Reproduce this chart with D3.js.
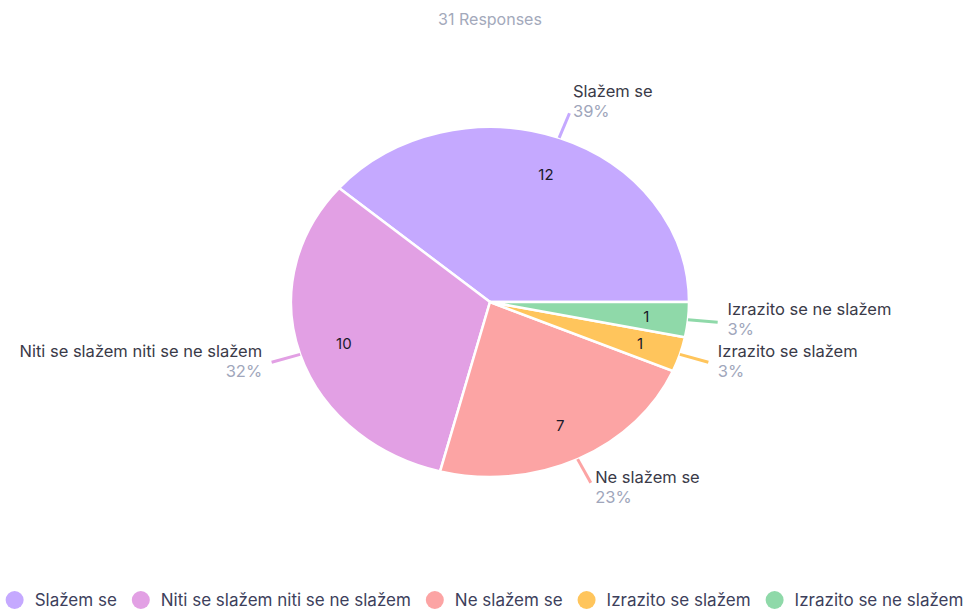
<!DOCTYPE html>
<html>
<head>
<meta charset="utf-8">
<script src="https://cdn.jsdelivr.net/npm/d3@7"></script>
<style>
  body { margin:0; background:#fff; font-family: Inter, "Noto Sans", sans-serif; }
  #pie { width:969px; height:612px; }
</style>
</head>
<body>
<div id="pie"></div>
<script>
!(function(){
    "use strict"

    var categories = ["Slažem se", "Niti se slažem niti se ne slažem", "Ne slažem se", "Izrazito se slažem", "Izrazito se ne slažem"]
    var counts = [12, 10, 7, 1, 1]
    var percents = ["39%", "32%", "23%", "3%", "3%"]
    var colors = ["#c5a9ff", "#e2a0e4", "#fca4a4", "#ffc55c", "#8fd9a9"]
    var title = "31 Responses"

    var width = 969, height = 612
    var cx = 490, cy = 302, rx = 199, ry = 175

    var svg = d3.select("#pie").append("svg").attr("width", width).attr("height", height)

    svg.append("text")
        .attr("x", cx).attr("y", 25)
        .attr("text-anchor", "middle")
        .attr("font-size", 16)
        .attr("fill", "#a3a9bb")
        .text(title)

    var data = categories.map(function(c, i){ return {name:c, value:counts[i], pct:percents[i], color:colors[i]} })

    var arcs = d3.pie()
        .sort(null)
        .startAngle(Math.PI/2)
        .endAngle(Math.PI/2 - 2*Math.PI)
        .value(function(d){ return d.value })(data)

    var arc = d3.arc().innerRadius(0).outerRadius(rx)

    // ellipse: squash the circle vertically
    var pieG = svg.append("g")
        .attr("transform", "translate(" + [cx, cy] + ") scale(1," + (ry/rx) + ")")

    pieG.selectAll("path")
        .data(arcs)
        .enter().append("path")
        .attr("d", arc)
        .attr("fill", function(d){ return d.data.color })
        .attr("stroke", "#fff")
        .attr("stroke-width", 2.5)
        .attr("vector-effect", "non-scaling-stroke")

    function pt(d, k) {
        var a = (d.startAngle + d.endAngle) / 2
        return [cx + Math.sin(a)*rx*k, cy - Math.cos(a)*ry*k]
    }

    // counts inside slices
    svg.selectAll(".val")
        .data(arcs)
        .enter().append("text")
        .attr("class", "val")
        .attr("x", function(d){ return pt(d, 0.78)[0] + 2 })
        .attr("y", function(d){ return pt(d, 0.78)[1] + 6 })
        .attr("text-anchor", "middle")
        .attr("font-size", 15)
        .attr("fill", "#1a1a2a")
        .text(function(d){ return d.data.value })

    // leader lines
    svg.selectAll(".lead")
        .data(arcs)
        .enter().append("line")
        .attr("x1", function(d){ return pt(d, 1.0)[0] })
        .attr("y1", function(d){ return pt(d, 1.0)[1] })
        .attr("x2", function(d){ return pt(d, 1.15)[0] })
        .attr("y2", function(d){ return pt(d, 1.15)[1] })
        .attr("stroke", function(d){ return d.data.color })
        .attr("stroke-width", 3)

    var lab = svg.selectAll(".lab")
        .data(arcs)
        .enter().append("g")
        .attr("transform", function(d){ return "translate(" + pt(d, 1.2) + ")" })
        .attr("text-anchor", function(d){ return pt(d, 1)[0] < cx ? "end" : "start" })

    lab.append("text")
        .attr("y", -8)
        .attr("font-size", 16.5)
        .attr("fill", "#3a3a48")
        .text(function(d){ return d.data.name })

    lab.append("text")
        .attr("y", 12)
        .attr("font-size", 16.5)
        .attr("fill", "#a0a6bb")
        .text(function(d){ return d.data.pct })

    // legend
    var legend = svg.append("g")
    var x = 0
    data.forEach(function(d){
        var g = legend.append("g").attr("transform", "translate(" + x + ",0)")
        g.append("circle").attr("cx", 0).attr("cy", 0).attr("r", 9).attr("fill", d.color)
        var t = g.append("text")
            .attr("x", 20).attr("y", 6)
            .attr("font-size", 17)
            .attr("fill", "#3d3f5c")
            .text(d.name)
        x += 20 + t.node().getComputedTextLength() + 24
    })
    x -= 24
    legend.attr("transform", "translate(" + [(width - x - 9)/2 + 9, 600] + ")")
}());
</script>
</body>
</html>
